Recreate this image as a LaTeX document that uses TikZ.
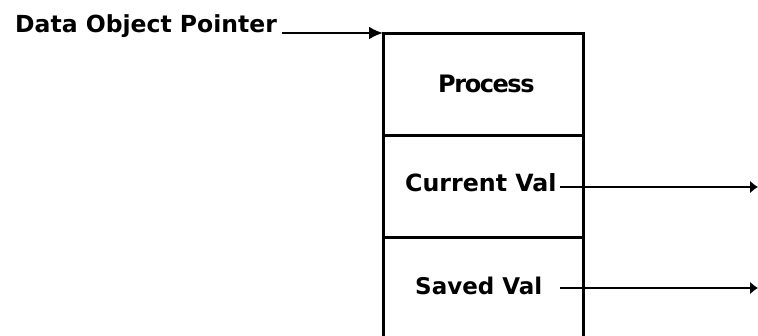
\documentclass[tikz,border=0pt]{standalone}
\usepackage{fontspec}
\setmainfont{DejaVu Sans}
\usetikzlibrary{arrows.meta}
\begin{document}
\begin{tikzpicture}[x=1pt,y=-1pt,
  cell/.style={draw,line width=3pt,minimum width=200pt,minimum height=102pt,inner sep=0pt,outer sep=0pt,anchor=north west},
  lbl/.style={font=\bfseries\fontsize{24}{28}\selectfont,inner sep=0pt,anchor=base west},
  dlbl/.style={font=\bfseries\fontsize{23.5}{27}\selectfont,inner sep=0pt,anchor=base west},
  ptr/.style={line width=2.6pt,-{Latex[length=14pt,width=13pt]}},
  outarrow/.style={line width=2.6pt,-{Latex[length=8pt,width=13pt]}}]
\useasboundingbox (0,0) rectangle (758,336);
\node[cell] (proc) at (383,34) {};
\node[cell] (cur) at (383,136) {};
\node[cell,draw=none,minimum height=104pt] (sav) at (383,238) {};
\draw[line width=3pt] (sav.north west) -- (sav.south west) (sav.north east) -- (sav.south east);
\node[lbl] (ptext) at (438,93) {\addfontfeature{LetterSpace=-6}Process};
\node[lbl] (ctext) at (405,192) {\fontsize{23.7}{28}\selectfont Current Val};
\node[lbl] (stext) at (415,295) {\fontsize{23}{28}\selectfont Saved Val};
\node[dlbl] (dtext) at (15,33) {Data Object Pointer};
\coordinate (dstart) at (282,33);
\coordinate (cstart) at (560,187);
\coordinate (send) at (758,288);
\coordinate (cend) at (758,187);
\coordinate (sstart) at (560,288);
\draw[ptr] (dstart) -- (dstart -| proc.north west);
\draw[outarrow] (cstart) -- (cend);
\draw[outarrow] (sstart) -- (send);
\end{tikzpicture}
\end{document}
